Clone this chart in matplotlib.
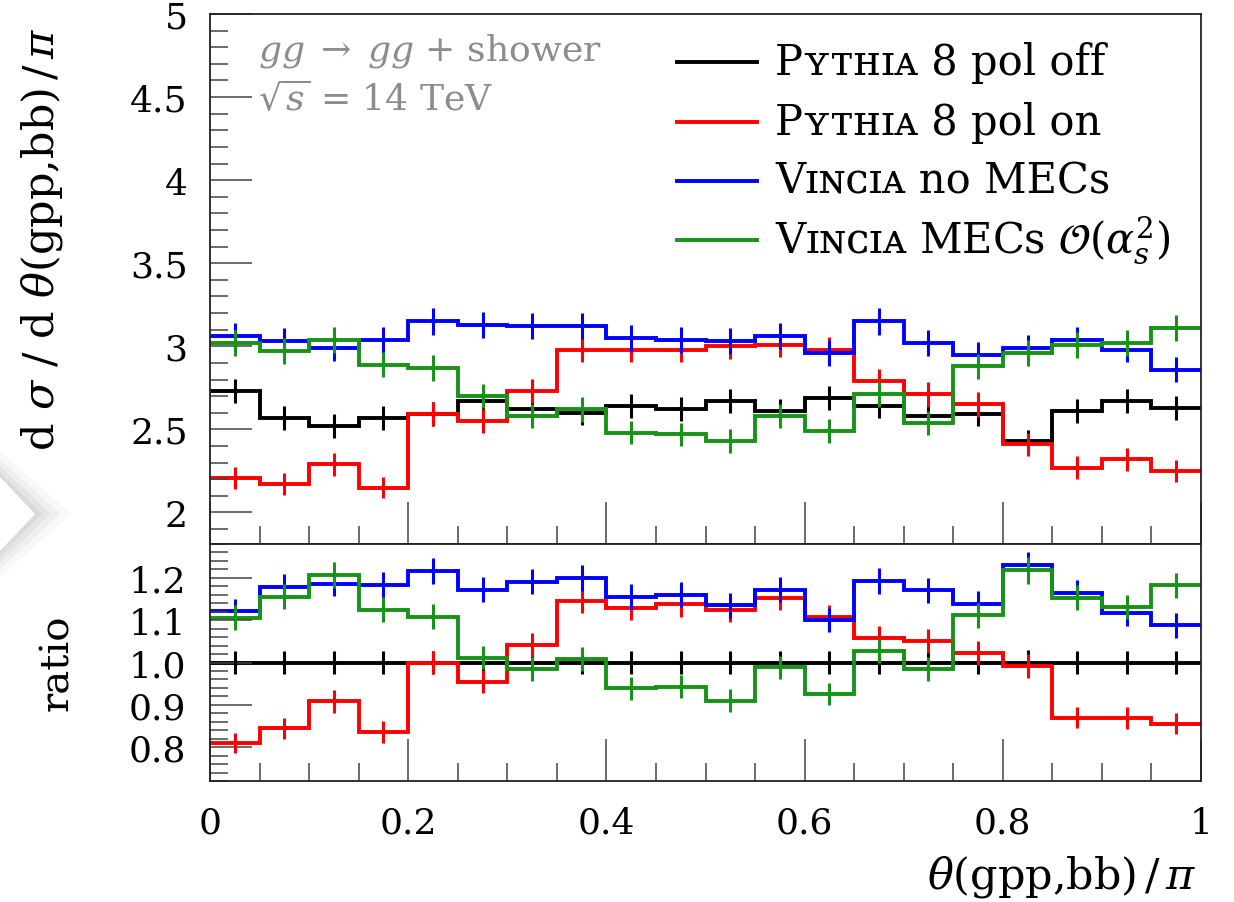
import numpy as np
import matplotlib
matplotlib.use("Agg")
import matplotlib.pyplot as plt
from matplotlib.lines import Line2D
from matplotlib.patches import Polygon
from matplotlib.ticker import MultipleLocator, FixedLocator

# ---------------- data ----------------
bin_edges = [0.0, 0.05, 0.10, 0.15, 0.20, 0.25, 0.30, 0.35, 0.40, 0.45, 0.50,
             0.55, 0.60, 0.65, 0.70, 0.75, 0.80, 0.85, 0.90, 0.95, 1.0]

pythia_off = [2.73, 2.57, 2.52, 2.57, 2.59, 2.67, 2.62, 2.60, 2.64, 2.62,
              2.67, 2.61, 2.69, 2.64, 2.58, 2.59, 2.43, 2.61, 2.67, 2.63]
pythia_on = [2.21, 2.17, 2.29, 2.15, 2.59, 2.55, 2.73, 2.98, 2.98, 2.98,
             3.00, 3.01, 2.98, 2.79, 2.71, 2.65, 2.41, 2.27, 2.32, 2.25]
vincia_nomec = [3.06, 3.03, 2.99, 3.04, 3.15, 3.13, 3.12, 3.12, 3.05, 3.04,
                3.03, 3.06, 2.96, 3.15, 3.02, 2.95, 2.99, 3.04, 2.98, 2.86]
vincia_mec = [3.02, 2.97, 3.04, 2.89, 2.87, 2.70, 2.58, 2.62, 2.48, 2.47,
              2.43, 2.58, 2.49, 2.71, 2.54, 2.88, 2.96, 3.01, 3.02, 3.11]

err_pythia_off = [0.074, 0.071, 0.071, 0.071, 0.072, 0.073, 0.072, 0.072, 0.073, 0.072,
                  0.073, 0.072, 0.073, 0.073, 0.072, 0.072, 0.069, 0.072, 0.073, 0.072]
err_pythia_on = [0.066, 0.066, 0.068, 0.066, 0.072, 0.071, 0.074, 0.077, 0.077, 0.077,
                 0.077, 0.077, 0.077, 0.075, 0.074, 0.073, 0.069, 0.067, 0.068, 0.067]
err_vincia_nomec = [0.078, 0.078, 0.077, 0.078, 0.080, 0.079, 0.079, 0.079, 0.078, 0.078,
                    0.078, 0.078, 0.077, 0.080, 0.078, 0.077, 0.077, 0.078, 0.077, 0.076]
err_vincia_mec = [0.078, 0.077, 0.078, 0.076, 0.076, 0.074, 0.072, 0.073, 0.071, 0.071,
                  0.070, 0.072, 0.071, 0.074, 0.072, 0.076, 0.077, 0.078, 0.078, 0.079]

labels = ["P\u028f\u1d1b\u029c\u026a\u1d00 8 pol off",
          "P\u028f\u1d1b\u029c\u026a\u1d00 8 pol on",
          "V\u026a\u0274\u1d04\u026a\u1d00 no MECs",
          "V\u026a\u0274\u1d04\u026a\u1d00 MECs $\\mathcal{O}(\\alpha_s^2)$"]
colors = ["#000000", "#ff0000", "#0000ff", "#179317"]

main_yticks = [2, 2.5, 3, 3.5, 4, 4.5, 5]
main_yticklabels = ["2", "2.5", "3", "3.5", "4", "4.5", "5"]
ratio_yticks = [0.8, 0.9, 1.0, 1.1, 1.2]
ratio_yticklabels = ["0.8", "0.9", "1.0", "1.1", "1.2"]
xticks = [0, 0.2, 0.4, 0.6, 0.8, 1.0]
xticklabels = ["0", "0.2", "0.4", "0.6", "0.8", "1"]

# ---------------- style ----------------
plt.rcParams["font.family"] = ["DejaVu Serif", "DejaVu Sans"]
plt.rcParams["mathtext.fontset"] = "dejavuserif"

W, H = 1234, 903
fig = plt.figure(figsize=(W / 100, H / 100), dpi=100)

def fx(px):
    return px / W

def fy(py):
    return 1 - py / H

L, R = 210, 1201
ax = fig.add_axes([fx(L), fy(545), fx(R - L), fy(15) - fy(545)])
axr = fig.add_axes([fx(L), fy(782), fx(R - L), fy(545) - fy(782)])

edges = np.array(bin_edges)
centers = 0.5 * (edges[1:] + edges[:-1])
series = [pythia_off, pythia_on, vincia_nomec, vincia_mec]
errors = [err_pythia_off, err_pythia_on, err_vincia_nomec, err_vincia_mec]
ref = np.array(pythia_off)

for vals, errs, c in zip(series, errors, colors):
    v = np.array(vals)
    e = np.array(errs)
    ax.stairs(v, edges, color=c, lw=2.8, baseline=None)
    ax.errorbar(centers, v, yerr=e, fmt="none", ecolor=c, elinewidth=2.2, capsize=0)
    r = v / ref
    re = e / ref
    axr.stairs(r, edges, color=c, lw=2.8, baseline=None)
    axr.errorbar(centers, r, yerr=re, fmt="none", ecolor=c, elinewidth=2.2, capsize=0)

for a in (ax, axr):
    a.set_xlim(0, 1)
    a.xaxis.set_major_locator(FixedLocator(xticks))
    a.xaxis.set_minor_locator(MultipleLocator(0.05))
    a.tick_params(which="major", direction="in", length=30, width=1.1, color="#444444",
                  top=False, right=False, labelsize=26)
    a.tick_params(which="minor", direction="in", length=13, width=1.1, color="#444444",
                  top=False, right=False)
    for s in a.spines.values():
        s.set_linewidth(1.3)
        s.set_color("#222222")

ax.set_ylim(1.81, 5.0)
ax.set_yticks(main_yticks)
ax.set_yticklabels(main_yticklabels)
ax.yaxis.set_minor_locator(MultipleLocator(0.1))
ax.tick_params(labelbottom=False)
ax.tick_params(axis="y", which="major", pad=16)

axr.set_ylim(0.72, 1.28)
axr.set_yticks(ratio_yticks)
axr.set_yticklabels(ratio_yticklabels)
axr.yaxis.set_minor_locator(MultipleLocator(0.02))
axr.set_xticklabels(xticklabels)
axr.tick_params(axis="x", which="major", pad=18)
axr.tick_params(axis="y", which="major", pad=17)

# axis labels
fig.text(fx(42), fy(28), r"d $\sigma$ / d $\theta$(gpp,bb)$\,/\,\pi$", rotation=90,
         ha="center", va="top", fontsize=31)
fig.text(fx(58), fy(663), "ratio", rotation=90, ha="center", va="center", fontsize=29)
fig.text(fx(1197), fy(877), r"$\theta$(gpp,bb)$\,/\,\pi$", ha="right", va="center",
         fontsize=31)

# process annotation
fig.text(fx(258), fy(60), r"$gg\;\to\;gg$ + shower", color="#8c8c8c", fontsize=26,
         ha="left", va="baseline")
fig.text(fx(258), fy(110), r"$\sqrt{s}$ = 14 TeV", color="#8c8c8c", fontsize=26,
         ha="left", va="baseline")

# legend (manual)
rows = [63, 123, 182, 241]
for yrow, lab, c in zip(rows, labels, colors):
    fig.add_artist(Line2D([fx(677), fx(757)], [fy(yrow), fy(yrow)], color=c, lw=2.8,
                          transform=fig.transFigure))
    fig.text(fx(775), fy(yrow), lab, ha="left", va="center", fontsize=30)

# decorative shadow triangle at left edge
for k, alpha in [(26, 0.04), (18, 0.05), (11, 0.06), (5, 0.07)]:
    fig.add_artist(Polygon([[fx(0), fy(478 - k)], [fx(35 + k * 1.4), fy(515)],
                            [fx(0), fy(552 + k)]], closed=True, transform=fig.transFigure,
                           facecolor="#555555", edgecolor="none", alpha=alpha))
fig.add_artist(Polygon([[fx(0), fy(478)], [fx(35), fy(515)], [fx(0), fy(552)]],
                       closed=True, transform=fig.transFigure, facecolor="white",
                       edgecolor="none"))

fig.savefig("out.png", dpi=100)
